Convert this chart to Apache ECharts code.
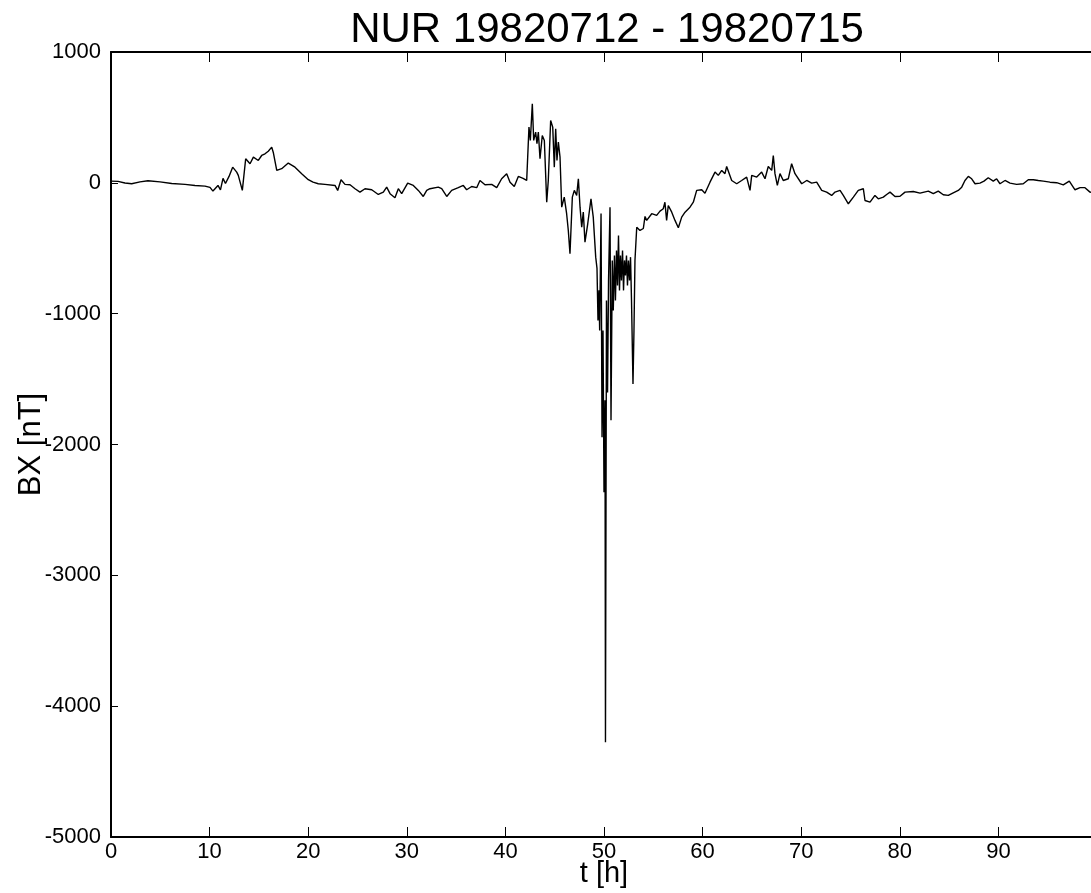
<!DOCTYPE html>
<html>
<head>
<meta charset="utf-8">
<script src="https://cdn.jsdelivr.net/npm/echarts@6/dist/echarts.min.js"></script>
<style>html,body{margin:0;padding:0;background:#fff}#c{width:1091px;height:893px}</style>
</head>
<body>
<div id="c"></div>
<script>
const TITLE = 'NUR 19820712 - 19820715';
const X_NAME = 't [h]';
const Y_NAME = 'BX [nT]';
const X_MIN = 0, X_MAX = 100, X_STEP = 10;
const Y_MIN = -5000, Y_MAX = 1000, Y_STEP = 1000;

// quiet period 0-20 h
const t1 = [0.00,0.71,1.42,2.10,2.94,3.75,4.97,6.16,7.51,8.52,9.53,10.04,10.34,10.85,11.10,11.36,11.61,11.97,12.34,12.75,12.91,13.32,13.66,14.10,14.44,14.94,15.28,15.62,15.95,16.30,16.46,16.81,17.31,17.98,18.66,19.34,20.01,20.49];
const b1 = [13,11,-1,-7,7,16,7,-5,-12,-20,-25,-35,-63,-20,-54,34,-5,49,120,82,57,-58,184,146,196,171,209,222,242,273,232,95,108,151,120,70,24,5];
// 20-42 h
const t2 = [20.69,21.02,21.70,22.72,22.99,23.33,23.73,24.24,24.75,25.25,25.76,26.44,27.11,27.62,27.96,28.30,28.80,29.14,29.48,30.09,30.66,31.17,31.67,32.02,32.35,33.19,33.54,34.05,34.55,35.22,35.73,36.07,36.58,37.09,37.42,37.93,38.61,39.12,39.62,40.13,40.47,40.90,41.31,41.79,42.16];
const b2 = [13,-7,-12,-20,-58,24,-12,-15,-45,-71,-45,-53,-89,-71,-33,-83,-114,-45,-83,-2,-20,-58,-104,-58,-45,-33,-45,-104,-58,-37,-20,-53,-28,-37,18,-15,-12,-37,31,70,5,-28,49,34,18];
// storm 42-54 h
const t3 = [42.39,42.53,42.73,42.87,43.07,43.20,43.34,43.51,43.74,43.95,44.19,44.35,44.59,44.80,44.96,45.10,45.23,45.37,45.54,45.71,45.97,46.21,46.38,46.55,46.79,46.99,47.23,47.40,47.57,47.74,47.90,48.07,48.35,48.68,48.91,49.16,49.29,49.39,49.49,49.56,49.70,49.80,49.90,50.00,50.10,50.15,50.25,50.36,50.46,50.61,50.71,50.84,50.94,51.06,51.16,51.27,51.37,51.47,51.57,51.67,51.77,51.88,51.98,52.08,52.18,52.28,52.38,52.48,52.59,52.69,52.79,52.94,53.04,53.14,53.32,53.65];
const b3 = [426,324,605,324,388,299,388,184,362,324,-148,18,477,426,120,414,171,311,196,-186,-109,-236,-364,-542,-109,-58,-96,31,-186,-339,-224,-453,-313,-122,-262,-568,-654,-1052,-822,-1128,-234,-1944,-1128,-2364,-1662,-4275,-899,-1602,-746,-186,-1815,-593,-975,-555,-899,-517,-784,-402,-822,-555,-746,-517,-822,-593,-708,-555,-784,-593,-746,-568,-899,-1537,-1128,-593,-339,-364];
// recovery 54-76 h
const t4 = [53.99,54.16,54.33,54.84,55.34,55.68,56.01,56.18,56.35,56.52,56.87,57.20,57.54,57.88,58.22,58.72,59.06,59.40,59.91,60.24,60.75,61.26,61.59,61.94,62.27,62.44,62.95,63.46,63.96,64.47,64.81,64.98,65.49,65.99,66.33,66.66,67.01,67.17,67.34,67.58,67.85,68.18,68.69,69.03,69.37,70.05,70.56,71.06,71.57,72.08,72.58,73.09,73.43,73.94,74.27,74.78,75.29,75.79];
const b4 = [-349,-257,-287,-236,-249,-216,-198,-148,-287,-173,-224,-287,-343,-262,-224,-186,-148,-58,-53,-79,5,82,57,95,70,125,18,-7,18,44,-58,57,44,82,31,125,95,209,70,-20,70,18,31,146,70,-7,18,-2,5,-58,-71,-96,-71,-58,-96,-160,-109,-58];
// 76-100 h
const t5 = [76.30,76.47,76.64,76.98,77.48,77.82,78.33,78.67,79.01,79.51,80.02,80.53,81.37,82.05,82.89,83.40,83.90,84.41,84.92,85.42,85.93,86.28,86.61,86.95,87.29,87.63,88.13,88.54,88.97,89.48,89.82,90.16,90.67,91.18,91.85,92.52,93.03,93.54,94.05,94.55,95.23,95.91,96.58,97.19,97.77,98.28,98.78,99.29,100];
const b5 = [-45,-135,-122,-148,-96,-122,-109,-89,-71,-104,-102,-71,-66,-79,-63,-83,-63,-91,-96,-76,-58,-33,18,49,31,-7,-2,13,39,13,31,-7,18,-2,-12,-7,24,24,18,13,5,1,-15,13,-53,-37,-37,-71,-80];

const hours = [].concat(t1, t2, t3, t4, t5);
const bx = [].concat(b1, b2, b3, b4, b5);
const seriesData = hours.map((t, i) => [t, bx[i]]);

const FONT = '"Liberation Sans", Arial, Helvetica, sans-serif';
const axisLine = { show: true, onZero: false, lineStyle: { color: '#000', width: 2 } };

const chart = echarts.init(document.getElementById('c'), null, { renderer: 'canvas' });
chart.setOption({
  animation: false,
  backgroundColor: '#fff',
  graphic: [{
    type: 'text', x: 607, y: 30,
    style: { text: TITLE, font: '42px ' + FONT, fill: '#000', textAlign: 'center', textVerticalAlign: 'middle' }
  }],
  grid: { left: 111, top: 52, width: 986, height: 785, containLabel: false, outerBoundsMode: 'none' },
  xAxis: [{
    type: 'value', min: X_MIN, max: X_MAX, interval: X_STEP, position: 'bottom',
    axisLine: axisLine,
    axisTick: { show: true, inside: true, length: 10, lineStyle: { color: '#000', width: 1 } },
    axisLabel: { color: '#000', fontSize: 22, fontFamily: FONT, margin: 4, formatter: v => (v >= X_MAX ? '' : String(v)) },
    splitLine: { show: false },
    name: X_NAME, nameLocation: 'middle', nameGap: 22, nameMoveOverlap: false,
    nameTextStyle: { color: '#000', fontSize: 29, fontFamily: FONT }
  }, {
    type: 'value', min: X_MIN, max: X_MAX, interval: X_STEP, position: 'top',
    axisLine: axisLine,
    axisTick: { show: true, inside: true, length: 10, lineStyle: { color: '#000', width: 1 } },
    axisLabel: { show: false }, splitLine: { show: false }
  }],
  yAxis: [{
    type: 'value', min: Y_MIN, max: Y_MAX, interval: Y_STEP, position: 'left',
    axisLine: axisLine,
    axisTick: { show: true, inside: true, length: 7, lineStyle: { color: '#000', width: 1 } },
    axisLabel: { color: '#000', fontSize: 22, fontFamily: FONT, margin: 10, formatter: v => String(v) },
    splitLine: { show: false },
    name: Y_NAME, nameLocation: 'middle', nameGap: 64, nameMoveOverlap: false,
    nameTextStyle: { color: '#000', fontSize: 31, fontFamily: FONT }
  }, {
    type: 'value', min: Y_MIN, max: Y_MAX, interval: Y_STEP, position: 'right',
    axisLine: axisLine,
    axisTick: { show: false },
    axisLabel: { show: false }, splitLine: { show: false }
  }],
  series: [{
    type: 'line', xAxisIndex: 0, yAxisIndex: 0,
    data: seriesData, showSymbol: false, symbol: 'none',
    lineStyle: { color: '#000', width: 1.4 }
  }]
});
</script>
</body>
</html>
